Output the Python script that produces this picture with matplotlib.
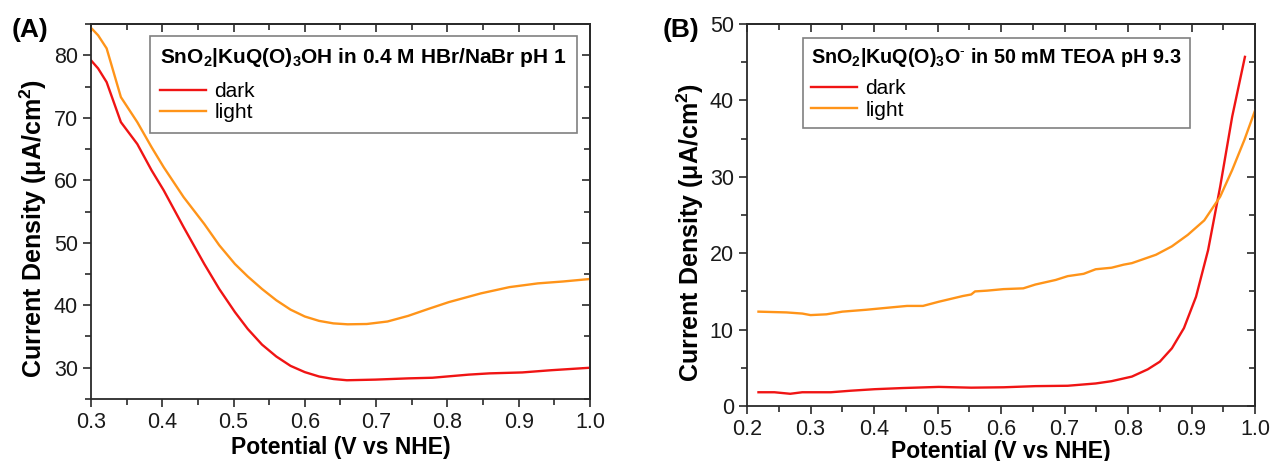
import matplotlib
matplotlib.use("Agg")
import matplotlib.pyplot as plt
from matplotlib.ticker import MultipleLocator, AutoMinorLocator

plt.rcParams['font.family'] = ['Liberation Sans', 'DejaVu Sans']
plt.rcParams['mathtext.fontset'] = 'custom'
plt.rcParams['mathtext.rm'] = 'Liberation Sans'
plt.rcParams['mathtext.bf'] = 'Liberation Sans:bold'
plt.rcParams['mathtext.it'] = 'Liberation Sans:italic'

# Panel A: pH 1 (HBr/NaBr)
a_dark_v = [0.300, 0.310, 0.322, 0.342, 0.365, 0.385, 0.402, 0.430, 0.459, 0.480,
            0.502, 0.520, 0.540, 0.560, 0.580, 0.600, 0.620, 0.640, 0.659, 0.699,
            0.745, 0.779, 0.830, 0.859, 0.905, 0.945, 1.000]
a_dark_j = [79.2, 77.9, 75.7, 69.3, 65.8, 61.6, 58.4, 52.5, 46.6, 42.6,
            38.9, 36.2, 33.7, 31.8, 30.3, 29.3, 28.6, 28.2, 28.0, 28.1,
            28.3, 28.4, 28.9, 29.1, 29.25, 29.6, 30.0]
a_light_v = [0.300, 0.310, 0.322, 0.342, 0.365, 0.385, 0.402, 0.430, 0.459, 0.480,
             0.502, 0.520, 0.540, 0.560, 0.580, 0.600, 0.620, 0.640, 0.660, 0.687,
             0.716, 0.745, 0.773, 0.802, 0.847, 0.887, 0.927, 0.962, 1.000]
a_light_j = [84.4, 83.2, 81.1, 73.3, 69.3, 65.3, 62.1, 57.3, 53.0, 49.6,
             46.6, 44.6, 42.6, 40.8, 39.3, 38.2, 37.5, 37.1, 36.95, 37.0,
             37.4, 38.3, 39.4, 40.5, 41.9, 42.9, 43.5, 43.8, 44.2]

# Panel B: pH 9.3 (TEOA)
b_dark_v = [0.218, 0.243, 0.268, 0.287, 0.332, 0.363, 0.401, 0.445, 0.502, 0.553,
            0.604, 0.654, 0.705, 0.749, 0.774, 0.806, 0.831, 0.850, 0.869, 0.888,
            0.907, 0.926, 0.945, 0.964, 0.984]
b_dark_j = [1.8, 1.8, 1.6, 1.8, 1.8, 2.0, 2.2, 2.35, 2.5, 2.4,
            2.45, 2.6, 2.65, 2.95, 3.25, 3.85, 4.8, 5.8, 7.55, 10.2,
            14.3, 20.4, 28.7, 37.9, 45.7]
b_light_v = [0.218, 0.262, 0.287, 0.300, 0.325, 0.350, 0.388, 0.426, 0.452, 0.477,
             0.502, 0.540, 0.553, 0.559, 0.578, 0.604, 0.635, 0.654, 0.686, 0.705,
             0.730, 0.749, 0.774, 0.793, 0.806, 0.844, 0.869, 0.894, 0.920, 0.945,
             0.964, 0.983, 1.000]
b_light_j = [12.35, 12.25, 12.1, 11.9, 12.0, 12.35, 12.6, 12.9, 13.1, 13.1,
             13.65, 14.4, 14.6, 15.0, 15.1, 15.3, 15.4, 15.9, 16.5, 17.0,
             17.3, 17.9, 18.1, 18.5, 18.7, 19.8, 20.9, 22.4, 24.3, 27.4,
             30.9, 34.8, 38.7]

series_labels = ['dark', 'light']
title_a = r'SnO$_\mathbf{2}$|KuQ(O)$_\mathbf{3}$OH in 0.4 M HBr/NaBr pH 1'
title_b = r'SnO$_\mathbf{2}$|KuQ(O)$_\mathbf{3}$O$^{\text{-}}$ in 50 mM TEOA pH 9.3'
xlabel = 'Potential (V vs NHE)'
ylabel = r'Current Density (μA/cm$^\mathbf{2}$)'

RED = '#f01414'
ORANGE = '#ff9419'
AXC = '#2a2a2a'

fig = plt.figure(figsize=(12.72, 4.61), dpi=100)
axA = fig.add_axes([0.0715, 0.1345, 0.3923, 0.8134])
axB = fig.add_axes([0.5873, 0.1193, 0.3994, 0.8286])


def style(ax, xlim, ylim, xmaj, ymaj, ylab_pos, xpad):
    ax.set_xlim(*xlim)
    ax.set_ylim(*ylim)
    ax.xaxis.set_major_locator(MultipleLocator(xmaj))
    ax.yaxis.set_major_locator(MultipleLocator(ymaj))
    ax.xaxis.set_minor_locator(AutoMinorLocator(2))
    ax.yaxis.set_minor_locator(AutoMinorLocator(2))
    for s in ax.spines.values():
        s.set_color(AXC)
        s.set_linewidth(1.3)
    ax.tick_params(which='both', direction='out', color=AXC, width=1.2,
                   labelsize=15.5, labelcolor='#1a1a1a')
    ax.tick_params(which='major', length=6)
    ax.tick_params(which='minor', length=4)
    sx = ax.secondary_xaxis('top')
    sy = ax.secondary_yaxis('right')
    for sec, axis in ((sx, sx.xaxis), (sy, sy.yaxis)):
        axis.set_major_locator(MultipleLocator(xmaj if sec is sx else ymaj))
        axis.set_minor_locator(AutoMinorLocator(2))
        sec.tick_params(which='both', direction='in', color=AXC, width=1.2,
                        labeltop=False, labelright=False)
        sec.tick_params(which='major', length=6)
        sec.tick_params(which='minor', length=4)
        for s in sec.spines.values():
            s.set_color(AXC)
            s.set_linewidth(1.3)
    ax.set_xlabel(xlabel, fontsize=16.5, fontweight='bold', labelpad=xpad)
    ax.set_ylabel(ylabel, fontsize=18, fontweight='bold')
    ax.yaxis.set_label_coords(*ylab_pos)


style(axA, (0.3, 1.0), (25, 85), 0.1, 10, (-0.085, 0.456), 2)
style(axB, (0.2, 1.0), (0, 50), 0.1, 10, (-0.080, 0.455), 0)

axA.plot(a_dark_v, a_dark_j, color=RED, lw=1.7, label=series_labels[0])
axA.plot(a_light_v, a_light_j, color=ORANGE, lw=1.7, label=series_labels[1])
axB.plot(b_dark_v, b_dark_j, color=RED, lw=1.7, label=series_labels[0])
axB.plot(b_light_v, b_light_j, color=ORANGE, lw=1.7, label=series_labels[1])

legend_specs = (
    (axA, title_a, (0.118, 0.968), 15.0, 0.5, 9),
    (axB, title_b, (0.110, 0.963), 14.2, 0.4, 7),
)
for ax, title, anchor, tsize, bpad, gap in legend_specs:
    leg = ax.legend(loc='upper left', bbox_to_anchor=anchor, borderaxespad=0,
                    title=title, alignment='left', fontsize=15,
                    title_fontproperties={'weight': 'bold', 'size': tsize},
                    fancybox=False, framealpha=1, edgecolor='#808080',
                    handlelength=2.2, handletextpad=0.4, labelspacing=0.12,
                    borderpad=bpad)
    leg.get_frame().set_linewidth(1.2)
    # extra gap between the bold title and the entries
    leg._legend_box.sep = gap

fig.text(0.009, 0.935, '(A)', fontsize=19, fontweight='bold', va='center')
fig.text(0.521, 0.935, '(B)', fontsize=19, fontweight='bold', va='center')

fig.savefig('out.png', dpi=100)
